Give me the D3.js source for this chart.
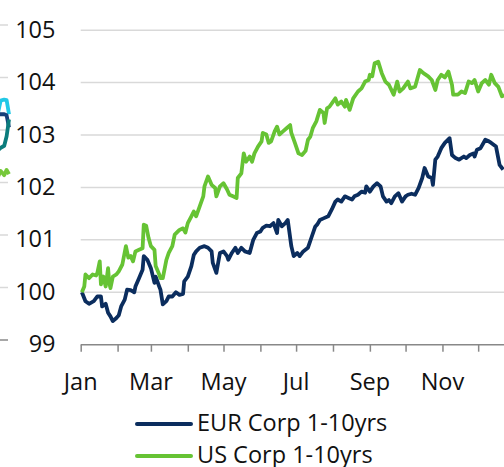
<!DOCTYPE html>
<html lang="en">
<head>
  <meta charset="utf-8"/>
  <title>EUR vs US Corp 1-10yrs</title>
  <script src="https://d3js.org/d3.v7.min.js"></script>
  <style>
    html, body { margin: 0; padding: 0; background: #fff; }
    svg { display: block; font-family: "Open Sans", "Noto Sans", sans-serif; }
  </style>
</head>
<body>
<svg id="chart" width="504" height="467"></svg>
<script>
  // day of year (0 = 1 Jan) and index level
  const eurDays = [1,4,7,11,14,17,18,21,23,25,27,30,32,34,37,39,42,45,46,49,52,53,56,59,62,63,66,67,69,72,74,77,80,83,86,87,90,93,95,97,100,104,107,110,111,114,117,120,123,124,127,130,132,135,138,142,145,148,151,153,156,159,162,165,166,169,172,174,177,179,182,184,187,191,194,197,199,201,204,208,211,214,216,219,222,225,228,230,233,236,239,240,243,246,249,252,254,257,259,261,264,267,270,273,275,278,281,284,287,289,292,295,296,298,300,303,306,310,312,315,318,322,324,327,330,331,333,336,340,343,345,349,352,355];
  const eurVals = [100.00,99.83,99.78,99.83,99.92,99.92,99.73,99.78,99.61,99.54,99.45,99.51,99.56,99.73,99.86,100.05,100.04,100.00,100.11,100.27,100.43,100.69,100.62,100.46,100.18,100.30,100.11,100.05,99.77,99.83,99.92,99.92,100.00,99.95,99.97,100.21,100.30,100.50,100.71,100.78,100.85,100.88,100.85,100.78,100.56,100.37,100.75,100.78,100.69,100.62,100.75,100.85,100.75,100.85,100.78,100.75,101.00,101.13,101.16,101.23,101.27,101.26,101.32,101.13,101.38,101.26,101.32,101.38,100.88,100.69,100.75,100.69,100.78,100.85,101.05,101.25,101.30,101.38,101.41,101.45,101.58,101.73,101.77,101.73,101.83,101.80,101.77,101.83,101.86,101.92,101.90,102.02,101.92,102.02,102.08,102.02,101.83,101.73,101.76,101.70,101.83,101.89,101.73,101.83,101.86,101.88,101.86,101.99,102.18,102.37,102.21,102.18,102.05,102.53,102.59,102.75,102.85,102.94,102.62,102.56,102.53,102.59,102.56,102.62,102.65,102.59,102.72,102.75,102.91,102.88,102.85,102.78,102.43,102.34];

  const usDays = [1,3,4,7,10,13,14,16,17,19,21,23,24,25,27,30,32,35,38,40,42,44,46,49,52,53,55,57,59,62,63,66,67,69,72,74,77,79,83,86,88,90,93,95,97,100,103,104,107,110,113,114,117,120,123,125,128,131,132,135,137,139,142,144,146,149,152,153,156,158,160,163,165,167,170,173,176,177,180,183,186,189,191,193,195,198,201,204,205,207,209,214,216,219,222,223,226,229,233,236,239,242,243,245,247,250,253,256,259,263,266,268,271,275,277,281,285,288,292,295,298,300,303,306,309,312,313,317,320,323,326,329,331,334,337,340,343,345,348,351,354,356];
  const usVals = [100.00,100.11,100.34,100.27,100.34,100.32,100.37,100.59,100.15,100.30,100.11,100.46,100.18,100.08,100.30,100.34,100.40,100.53,100.88,100.66,100.69,100.59,100.78,100.81,100.84,101.29,101.27,101.04,100.88,100.81,100.50,100.34,100.27,100.27,100.62,100.75,100.88,101.10,101.19,101.22,101.14,101.32,101.45,101.54,101.45,101.64,101.83,102.02,102.21,102.05,101.99,101.83,102.02,102.08,101.96,101.86,101.83,101.80,102.18,102.27,102.65,102.49,102.59,102.49,102.65,102.78,102.88,103.04,103.01,102.85,102.88,103.07,103.16,103.01,103.07,103.13,103.19,103.04,102.85,102.65,102.62,102.70,102.91,102.97,103.13,103.26,103.48,103.42,103.23,103.51,103.54,103.70,103.58,103.64,103.54,103.67,103.48,103.70,103.83,103.89,104.02,104.05,104.15,104.12,104.37,104.40,104.18,104.02,103.96,103.77,104.02,103.83,103.89,104.02,103.89,103.92,104.24,104.18,104.12,104.05,103.86,104.05,104.15,104.10,104.21,103.96,103.77,103.77,103.83,103.80,104.02,103.99,104.05,103.83,103.99,104.05,103.96,104.15,103.99,103.92,103.74,103.76];

  // bits of the neighbouring chart that show at the left edge
  const nbDays = [355,357,360,362,364];
  const nbCyan = [103.35,103.56,103.58,103.57,103.30];
  const nbNavy = [103.30,103.30,103.30,103.28,103.05];
  const nbTeal = [102.62,102.66,102.70,102.88,103.20];
  const nbGreen = [102.12,102.22,102.14,102.24,102.16];

  const yTicks = [99, 100, 101, 102, 103, 104, 105];
  const seriesNames = ["EUR Corp 1-10yrs", "US Corp 1-10yrs"];
  const seriesColors = ["#0b2d5e", "#66c334"];

  const svg = d3.select("#chart");
  const start = new Date(2019, 0, 1);
  const end = new Date(2019, 11, 31);
  const toDate = d => d3.timeDay.offset(start, d);

  const x = d3.scaleTime().domain([start, end]).range([80.7, 80.7 + 364 * 1.19]);
  const y = d3.scaleLinear().domain([99, 105]).range([344.7, 30.2]);

  // neighbouring panel, clipped off at the left
  const xNb = d3.scaleTime().domain([start, end]).range([9 - 364 * 1.19, 9]);
  const yNb = d3.scaleLinear().domain([99, 105]).range([340, 25]);

  svg.append("g")
    .selectAll("line")
    .data(yTicks)
    .join("line")
    .attr("x1", 0).attr("x2", 8)
    .attr("y1", d => yNb(d)).attr("y2", d => yNb(d))
    .attr("stroke", d => d === 99 ? "#8a8a8a" : "#d9d9d9")
    .attr("stroke-width", 1.5);

  const nbLine = d3.line().x((d, i) => xNb(toDate(nbDays[i]))).y(d => yNb(d));
  [[nbCyan, "#22c8e6"], [nbNavy, "#16407a"], [nbTeal, "#0b7c7c"], [nbGreen, "#76c83a"]].forEach(([vals, c]) => {
    svg.append("path")
      .attr("d", nbLine(vals))
      .attr("fill", "none")
      .attr("stroke", c)
      .attr("stroke-width", 3.8)
      .attr("stroke-linejoin", "round");
  });

  // gridlines
  svg.append("g")
    .selectAll("line")
    .data(yTicks.filter(d => d > 99))
    .join("line")
    .attr("x1", x(start)).attr("x2", 504)
    .attr("y1", d => y(d)).attr("y2", d => y(d))
    .attr("stroke", "#d9d9d9")
    .attr("stroke-width", 1.5);

  // y labels
  svg.append("g")
    .selectAll("text")
    .data(yTicks)
    .join("text")
    .attr("x", 55.5)
    .attr("y", d => y(d) + 7.5)
    .attr("text-anchor", "end")
    .attr("font-size", 23.5)
    .attr("fill", "#111")
    .text(d => d);

  // x axis
  const xAxis = svg.append("g")
    .attr("transform", `translate(0,${y(99)})`)
    .call(d3.axisBottom(x).ticks(d3.timeMonth.every(1)).tickSize(7).tickFormat(""));
  xAxis.select(".domain").attr("stroke", "#888").attr("stroke-width", 1.5).attr("d", `M${x(start)},0H520`);
  xAxis.selectAll(".tick line").attr("stroke", "#888").attr("stroke-width", 1.5);

  svg.append("g")
    .selectAll("text")
    .data(d3.timeMonth.range(start, end, 2))
    .join("text")
    .attr("x", d => x(d))
    .attr("y", 390)
    .attr("text-anchor", "middle")
    .attr("font-size", 23.5)
    .attr("fill", "#111")
    .text(d => d3.timeFormat("%b")(d));

  // series
  const line = days => d3.line().x((d, i) => x(toDate(days[i]))).y(d => y(d));
  [[eurDays, eurVals], [usDays, usVals]].forEach(([days, vals], i) => {
    svg.append("path")
      .attr("d", line(days)(vals))
      .attr("fill", "none")
      .attr("stroke", seriesColors[i])
      .attr("stroke-width", 3.8)
      .attr("stroke-linejoin", "round");
  });

  // legend
  const legend = svg.append("g")
    .selectAll("g")
    .data(seriesNames)
    .join("g")
    .attr("transform", (d, i) => `translate(137,${424 + i * 32})`);
  legend.append("line")
    .attr("x1", 0).attr("x2", 54)
    .attr("stroke", (d, i) => seriesColors[i])
    .attr("stroke-width", 4)
    .attr("stroke-linecap", "round");
  legend.append("text")
    .attr("x", 60)
    .attr("y", 6.5)
    .attr("font-size", 23.5)
    .attr("fill", "#111")
    .text(d => d);
</script>
</body>
</html>
